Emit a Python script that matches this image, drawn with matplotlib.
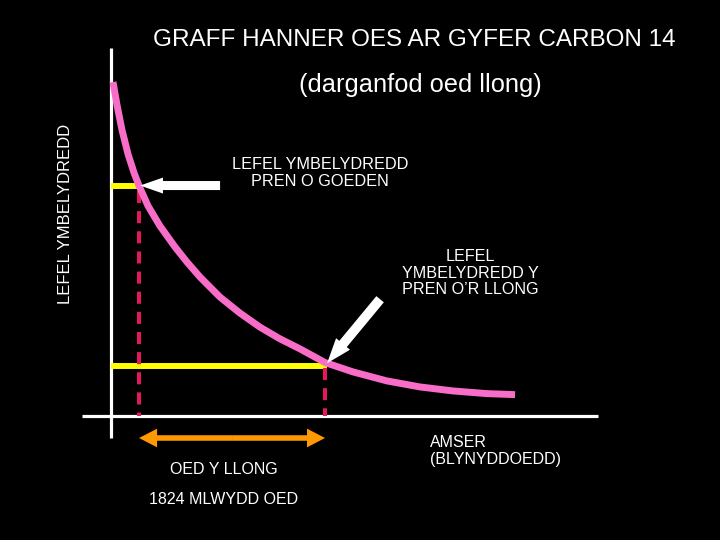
import matplotlib
matplotlib.use("Agg")
import matplotlib.pyplot as plt

plt.rcParams['font.family'] = ['Liberation Sans', 'DejaVu Sans']

# ---- data (time in years, radiation level in % of living wood) ----
time_years = [20, 59, 108, 167, 226, 275, 363, 480, 628, 745, 873, 1069, 1265,
              1461, 1657, 1853, 2099, 2373, 2706, 3030, 3354, 3687, 3962]
level_pct = [100, 93.1, 85.6, 78.4, 72.8, 68.9, 62.9, 56.9, 50.6, 46.1, 41.6, 35.6, 30.8,
             26.6, 23.1, 20.1, 16.0, 13.2, 10.5, 8.7, 7.5, 6.7, 6.4]

tree_time = 275
tree_level = 69
ship_age = 1824
ship_time = tree_time + ship_age
ship_level = 15.0

title = "GRAFF HANNER OES AR GYFER CARBON 14"
subtitle = "(darganfod oed llong)"
ylabel = "LEFEL YMBELYDREDD"
label_tree = "LEFEL YMBELYDREDD\nPREN O GOEDEN"
label_ship = "LEFEL\nYMBELYDREDD Y\nPREN O\u2019R LLONG"
xlabel = "AMSER\n(BLYNYDDOEDD)"
age_label = "OED Y LLONG"
age_value = f"{ship_age} MLWYDD OED"

# ---- figure ----
W, H = 720, 540
fig = plt.figure(figsize=(7.2, 5.4), dpi=100, facecolor='black')
ax = fig.add_axes([0, 0, 1, 1])
ax.set_facecolor('black')
xpp = 9.806   # years per pixel
ypp = 100 / 334.0  # level per pixel
ax.set_xlim(-111 * xpp, (W - 111) * xpp)
ax.set_ylim(-(H - 416) * ypp, 416 * ypp)
ax.axis('off')

def fp(x, y):
    return (x / W, 1 - y / H)

PINK = '#F76DC8'
YELLOW = '#FFFF00'
RED = '#E4185C'
ORANGE = '#FF9900'

# axes lines
ax.plot([0, 0], [-22 * ypp, 368 * ypp], color='white', lw=2.3, solid_capstyle='butt', zorder=2)
ax.plot([-29 * xpp, 487 * xpp], [0, 0], color='white', lw=2.3, solid_capstyle='butt', zorder=2)

# yellow level lines
ax.plot([0, tree_time], [tree_level, tree_level], color=YELLOW, lw=4.3, solid_capstyle='butt', zorder=3)
ax.plot([0, ship_time + 20], [ship_level, ship_level], color=YELLOW, lw=4.3, solid_capstyle='butt', zorder=3)

# red dashed drops
ax.plot([tree_time, tree_time], [tree_level - 1.5, 0], color=RED, lw=2.9,
        ls=(0, (3, 2)), dash_capstyle='butt', zorder=3)
ax.plot([ship_time, ship_time], [ship_level - 0.6, 0], color=RED, lw=2.9,
        ls=(0, (3, 2)), dash_capstyle='butt', zorder=3)

# decay curve
ax.plot(time_years, level_pct, color=PINK, lw=5, solid_capstyle='butt',
        solid_joinstyle='round', zorder=4)

# white pointer arrows
ax.annotate('', xy=(tree_time + 10, tree_level), xytext=(80, 0), textcoords='offset pixels',
            arrowprops=dict(arrowstyle='simple,head_length=1.65,head_width=1.15,tail_width=0.65',
                            fc='white', ec='none', shrinkA=0, shrinkB=0, mutation_scale=10),
            zorder=5)
ax.annotate('', xy=(ship_time + 20, ship_level + 0.8), xytext=(53, 64), textcoords='offset pixels',
            arrowprops=dict(arrowstyle='simple,head_length=1.8,head_width=1.3,tail_width=0.7',
                            fc='white', ec='none', shrinkA=0, shrinkB=0, mutation_scale=10),
            zorder=5)

# orange double arrow for the age
age_y = -22 * ypp
mid = (tree_time + ship_time) / 2
for end in (tree_time, ship_time):
    ax.annotate('', xy=(end, age_y), xytext=(mid, age_y),
                arrowprops=dict(arrowstyle='simple,head_length=1.3,head_width=1.35,tail_width=0.4',
                                fc=ORANGE, ec='none', shrinkA=0, shrinkB=0, mutation_scale=10),
                zorder=5)

# texts
fig.text(*fp(414, 40), title, color='white', fontsize=17.5, ha='center', va='center')
fig.text(*fp(420, 85), subtitle, color='white', fontsize=18.3, ha='center', va='center')
fig.text(*fp(66, 214), ylabel, color='white', fontsize=12, ha='center', va='center', rotation=90)
fig.text(*fp(320, 173), label_tree, color='white', fontsize=11.7, ha='center', va='center',
         linespacing=1.1)
fig.text(*fp(470, 273), label_ship, color='white', fontsize=11.6, ha='center', va='center',
         linespacing=1.1)
fig.text(*fp(430, 451), xlabel, color='white', fontsize=11.5, ha='left', va='center',
         linespacing=1.15)
fig.text(*fp(224, 470), age_label, color='white', fontsize=11.5, ha='center', va='center')
fig.text(*fp(224, 499), age_value, color='white', fontsize=11.5, ha='center', va='center')

fig.savefig('out.png', dpi=100, facecolor='black')
